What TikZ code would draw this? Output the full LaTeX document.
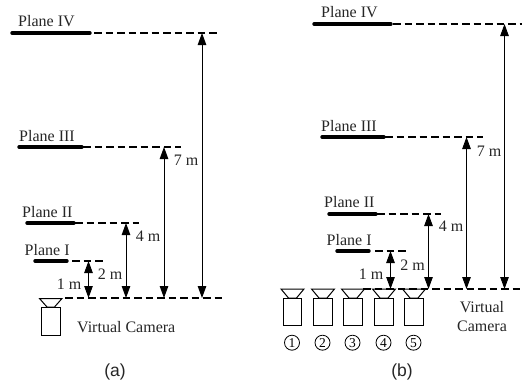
\documentclass[tikz,border=0pt]{standalone}
\usepackage{fontspec}
\setmainfont{Liberation Serif}
\newfontfamily\capfont{Liberation Sans}
\usetikzlibrary{arrows.meta}
\tikzset{
  x=1pt,y=-1pt,
  planesolid/.style={line width=3.4pt,line cap=round},
  planedash/.style={line width=2.2pt,dash pattern=on 7.5pt off 4pt},
  dist/.style={line width=1pt,{Triangle[length=12pt,width=8.5pt]}-{Triangle[length=12pt,width=8.5pt]},shorten <=0pt,shorten >=0pt},
  lab/.style={inner sep=0pt,font=\fontsize{16}{18}\selectfont,text=black!85},
  subcap/.style={inner sep=0pt,font=\capfont\fontsize{17.5}{20}\selectfont,text=black!85},
  cambody/.style={draw,line width=1pt},
  numcirc/.style={draw,circle,line width=0.8pt,minimum size=15pt,inner sep=0pt,font=\fontsize{13.5}{13.5}\selectfont}
}
\begin{document}
\begin{tikzpicture}
\useasboundingbox (0,0) rectangle (524,383);
\foreach \nm/\ya/\sa/\sb/\da/\db/\lx/\ly/\txt in {
  pIVa/33/12/90/94/218/18/21.5/Plane IV,
  pIIIa/147/19/82/83/181/19/136.5/Plane III,
  pIIa/223/27/74/75/139/22/212.5/Plane II,
  pIa/261/35/67/72/105/24.5/250.5/Plane I,
  pIVb/24/314/391/393/522/321/12.5/Plane IV,
  pIIIb/137/322/384/385/483/321/126.5/Plane III,
  pIIb/214/329/376/377/441/324/202.5/Plane II,
  pIb/251/337/369/375/407/326.5/240.5/Plane I}{
  \draw[planesolid] (\sa,\ya) -- (\sb,\ya);
  \draw[planedash] (\da,\ya) -- (\db,\ya);
  \node[lab,anchor=west] (l\nm) at (\lx,\ly) {\txt};
}
\draw[planedash] (65,298) -- (224,298);
\draw[planedash] (363,289) -- (522,289);
\coordinate (a1t) at (88.5,261); \coordinate (a1b) at (88.5,298);
\coordinate (a2t) at (126,223);  \coordinate (a2b) at (126,298);
\coordinate (a3t) at (164,147);  \coordinate (a3b) at (164,298);
\coordinate (a4t) at (202,33);   \coordinate (a4b) at (202,298);
\draw[dist] (a1t) -- (a1b);
\draw[dist] (a2t) -- (a2b);
\draw[dist] (a3t) -- (a3b);
\draw[dist] (a4t) -- (a4b);
\coordinate (b1t) at (390.5,251); \coordinate (b1b) at (390.5,289);
\coordinate (b2t) at (428.5,214); \coordinate (b2b) at (428.5,289);
\coordinate (b3t) at (466.5,137); \coordinate (b3b) at (466.5,289);
\coordinate (b4t) at (504.5,24);  \coordinate (b4b) at (504.5,289);
\draw[dist] (b1t) -- (b1b);
\draw[dist] (b2t) -- (b2b);
\draw[dist] (b3t) -- (b3b);
\draw[dist] (b4t) -- (b4b);
\node[lab] (da1) at (69,284) {1 m};
\node[lab] (da2) at (110,274) {2 m};
\node[lab] (da4) at (148,236) {4 m};
\node[lab] (da7) at (186,160) {7 m};
\node[lab] (db1) at (371,274) {1 m};
\node[lab] (db2) at (412.5,265.5) {2 m};
\node[lab] (db4) at (451,226) {4 m};
\node[lab] (db7) at (489,151) {7 m};
\draw[cambody] (39.5,298.5) -- (62,298.5) -- (54.5,307) -- (47,307) -- cycle;
\draw[cambody] (41.5,307.5) rectangle (60,335);
\node[lab,anchor=west] (vca) at (77,327) {Virtual Camera};
\foreach \cx/\n in {292.5/1,323/2,353/3,384/4,414/5}{
  \draw[cambody] (\cx-11.5,289) -- (\cx+11.5,289) -- (\cx+4,298) -- (\cx-4,298) -- cycle;
  \draw[cambody] (\cx-9.2,298) rectangle (\cx+9.2,325.5);
  \node[numcirc] (c\n) at (\cx-0.5,342.7) {\n};
}
\node[lab] (vb) at (482,307) {Virtual};
\node[lab] (cb) at (482,326) {Camera};
\node[subcap] (capa) at (115,372) {(a)};
\node[subcap] (capb) at (402,372) {(b)};
\end{tikzpicture}
\end{document}
